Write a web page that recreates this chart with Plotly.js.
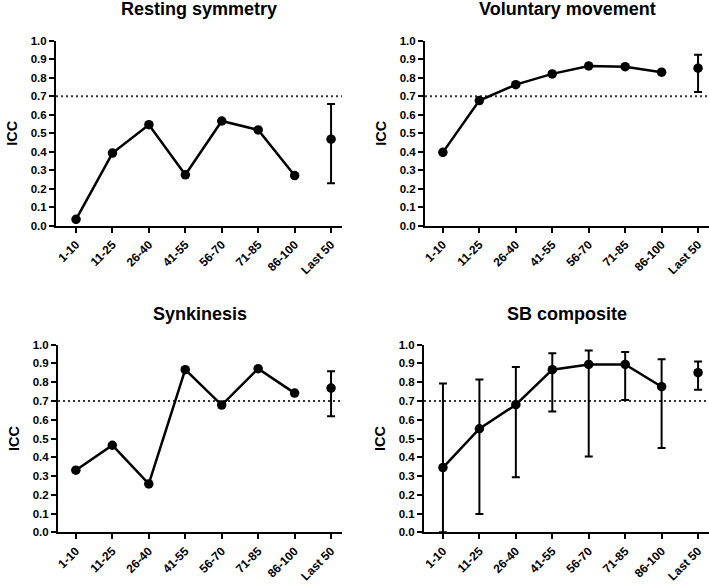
<!DOCTYPE html>
<html>
<head>
<meta charset="utf-8">
<script src="https://cdn.plot.ly/plotly-3.0.1.min.js"></script>
<style>html,body{margin:0;padding:0;background:#fff;}#chart{width:709px;height:584px;}</style>
</head>
<body>
<div id="chart"></div>
<script>
// Categories (x tick labels)
const categories = ['1-10', '11-25', '26-40', '41-55', '56-70', '71-85', '86-100', 'Last 50'];
const trendCategories = categories.slice(0, 7);
const last50Category = categories[7];
const threshold = 0.7;
const panelTitles = ['Resting symmetry', 'Voluntary movement', 'Synkinesis', 'SB composite'];

// Resting symmetry
const restingICC = [0.036, 0.393, 0.546, 0.276, 0.566, 0.518, 0.272];
const restingLast50 = 0.468;
const restingLast50Upper = 0.658;
const restingLast50Lower = 0.231;

// Voluntary movement
const voluntaryICC = [0.397, 0.676, 0.762, 0.820, 0.863, 0.859, 0.829];
const voluntaryLast50 = 0.851;
const voluntaryLast50Upper = 0.923;
const voluntaryLast50Lower = 0.722;

// Synkinesis
const synkinesisICC = [0.331, 0.464, 0.258, 0.867, 0.678, 0.872, 0.742];
const synkinesisLast50 = 0.769;
const synkinesisLast50Upper = 0.859;
const synkinesisLast50Lower = 0.619;

// SB composite
const sbICC = [0.345, 0.552, 0.680, 0.867, 0.895, 0.895, 0.776];
const sbUpper = [0.793, 0.815, 0.881, 0.954, 0.969, 0.961, 0.922];
const sbLower = [0.000, 0.098, 0.294, 0.644, 0.404, 0.705, 0.450];
const sbLast50 = 0.851;
const sbLast50Upper = 0.911;
const sbLast50Lower = 0.760;

const FONT = '"Liberation Sans", Arial, Helvetica, sans-serif';
const BLACK = '#000000';

function errObj(vals, up, low) {
  return {
    type: 'data', symmetric: false, visible: true,
    array: vals.map((v, i) => up[i] - v),
    arrayminus: vals.map((v, i) => v - low[i]),
    color: BLACK, thickness: 2, width: 4
  };
}

function panelTraces(n, vals, last, lastUp, lastLow, up, low) {
  const xa = 'x' + (n === 1 ? '' : n), ya = 'y' + (n === 1 ? '' : n);
  const t1 = {
    type: 'scatter', mode: 'lines+markers', x: trendCategories, y: vals,
    xaxis: xa, yaxis: ya, cliponaxis: false, showlegend: false,
    line: {color: BLACK, width: 2.5},
    marker: {color: BLACK, size: 9.5, symbol: 'circle'}
  };
  if (up) t1.error_y = errObj(vals, up, low);
  const t2 = {
    type: 'scatter', mode: 'markers', x: [last50Category], y: [last],
    xaxis: xa, yaxis: ya, cliponaxis: false, showlegend: false,
    marker: {color: BLACK, size: 9.5, symbol: 'circle'},
    error_y: errObj([last], [lastUp], [lastLow])
  };
  return [t1, t2];
}

const data = [].concat(
  panelTraces(1, restingICC, restingLast50, restingLast50Upper, restingLast50Lower),
  panelTraces(2, voluntaryICC, voluntaryLast50, voluntaryLast50Upper, voluntaryLast50Lower),
  panelTraces(3, synkinesisICC, synkinesisLast50, synkinesisLast50Upper, synkinesisLast50Lower),
  panelTraces(4, sbICC, sbLast50, sbLast50Upper, sbLast50Lower, sbUpper, sbLower)
);

const W = 709, H = 584;
const panels = [
  {x0: 56, x1: 342, top: 40.5, bot: 226, xr: [-0.55, 7.3], ty: 9},
  {x0: 425, x1: 709, top: 40.5, bot: 226, xr: [-0.49, 7.3], ty: 9},
  {x0: 58, x1: 342, top: 344.7, bot: 532.3, xr: [-0.49, 7.3], ty: 314},
  {x0: 424, x1: 709, top: 344.7, bot: 532.3, xr: [-0.52, 7.3], ty: 314}
];

const layout = {
  width: W, height: H,
  margin: {l: 0, r: 0, t: 0, b: 0},
  paper_bgcolor: '#ffffff', plot_bgcolor: '#ffffff',
  font: {family: FONT, color: BLACK},
  showlegend: false,
  shapes: [], annotations: []
};

panels.forEach((p, i) => {
  const n = i + 1, s = n === 1 ? '' : String(n);
  layout['xaxis' + s] = {
    domain: [p.x0 / W, p.x1 / W], anchor: 'y' + s,
    type: 'category', categoryorder: 'array', categoryarray: categories,
    range: p.xr, showgrid: false, zeroline: false,
    showline: true, linecolor: BLACK, linewidth: 2,
    ticks: 'outside', ticklen: 5, tickwidth: 2, tickcolor: BLACK,
    tickangle: -45, tickfont: {family: FONT, size: 12, color: BLACK, weight: 'bold'},
    fixedrange: true
  };
  layout['yaxis' + s] = {
    domain: [1 - p.bot / H, 1 - p.top / H], anchor: 'x' + s,
    range: [0, 1], dtick: 0.1, tickformat: '.1f',
    showgrid: false, zeroline: false,
    showline: true, linecolor: BLACK, linewidth: 2,
    ticks: 'outside', ticklen: 5, tickwidth: 2, tickcolor: BLACK,
    tickfont: {family: FONT, size: 11.5, color: BLACK, weight: 'bold'},
    title: {text: 'ICC', font: {family: FONT, size: 14.5, color: BLACK, weight: 'bold'}, standoff: 10},
    fixedrange: true
  };
  layout.shapes.push({
    type: 'line', xref: 'x' + s + ' domain', yref: 'y' + s,
    x0: 0, x1: 1, y0: threshold, y1: threshold,
    line: {color: '#333333', width: 2, dash: '2px,3px'}, layer: 'below'
  });
  layout.annotations.push({
    xref: 'paper', yref: 'paper',
    x: ((p.x0 + p.x1) / 2) / W, y: 1 - p.ty / H,
    xanchor: 'center', yanchor: 'middle', showarrow: false,
    text: panelTitles[i],
    font: {family: FONT, size: 18, color: BLACK, weight: 'bold'}
  });
});

Plotly.newPlot('chart', data, layout, {displayModeBar: false, staticPlot: true});
</script>
</body>
</html>
